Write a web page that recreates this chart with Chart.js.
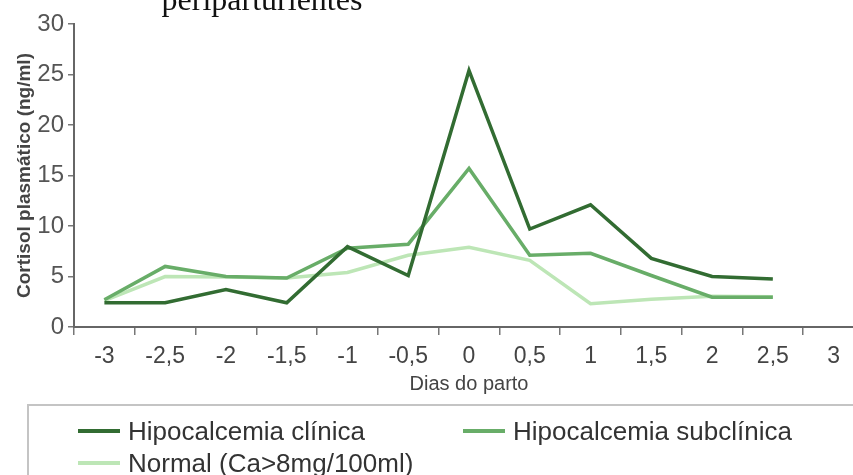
<!DOCTYPE html>
<html>
<head>
<meta charset="utf-8">
<script src="https://cdn.jsdelivr.net/npm/chart.js@4"></script>
<style>
  html, body { margin: 0; padding: 0; background: #fff; overflow: hidden; }
  #wrap { position: absolute; left: 0; top: 0; width: 866px; height: 475px; }
  #legend {
    position: absolute; top: 404px; left: 27px; width: 900px; height: 90px;
    border-top: 2px solid #c4c4c4; border-left: 2px solid #c4c4c4;
    font-family: "Liberation Sans", Arial, sans-serif; font-size: 26px; color: #333;
  }
  .item { position: absolute; display: flex; align-items: center; height: 30px; line-height: 30px; white-space: nowrap; }
  .item .swatch { display: inline-block; width: 42px; height: 4px; margin-right: 8px; }
</style>
</head>
<body>
<div id="wrap"><canvas id="chart"></canvas></div>
<div id="legend"></div>
<script>
// Dias do parto (categories)
const labels = ['-3', '-2,5', '-2', '-1,5', '-1', '-0,5', '0', '0,5', '1', '1,5', '2', '2,5', '3'];

// Cortisol plasmático (ng/ml)
const clinica = [2.4, 2.4, 3.7, 2.4, 7.95, 5.1, 25.4, 9.7, 12.1, 6.8, 5.0, 4.75, null];
const subclinica = [2.7, 6.0, 5.0, 4.85, 7.8, 8.2, 15.7, 7.1, 7.3, 5.1, 2.95, 2.95, null];
const normal = [2.6, 5.0, 4.95, 4.85, 5.4, 7.1, 7.9, 6.6, 2.3, 2.75, 3.05, 3.0, null];

const yTicks = [0, 5, 10, 15, 20, 25, 30];

Chart.defaults.font.family = '"Liberation Sans", Arial, sans-serif';
Chart.defaults.color = '#444';

// partially cut title above the plot
const titlePlugin = {
    id: 'cutTitle',
    afterDraw(chart) {
        const ctx = chart.ctx;
        ctx.save();
        ctx.font = '32px "Liberation Serif", "Times New Roman", serif';
        ctx.fillStyle = '#111';
        ctx.textAlign = 'center';
        ctx.textBaseline = 'alphabetic';
        ctx.fillText('periparturientes', 262, 10);
        ctx.restore();
    }
};

const chart = new Chart(document.getElementById('chart'), {
    type: 'line',
    data: {
        labels: labels,
        datasets: [{
            label: 'Hipocalcemia clínica',
            data: clinica,
            borderColor: '#326c32',
            backgroundColor: '#326c32',
            borderWidth: 3.5
        }, {
            label: 'Hipocalcemia subclínica',
            data: subclinica,
            borderColor: '#68ad68',
            backgroundColor: '#68ad68',
            borderWidth: 3.5
        }, {
            label: 'Normal (Ca>8mg/100ml)',
            data: normal,
            borderColor: '#bde6b6',
            backgroundColor: '#bde6b6',
            borderWidth: 3.5
        }]
    },
    options: {
        responsive: true,
        maintainAspectRatio: false,
        animation: false,
        elements: {
            point: { radius: 0 },
            line: { tension: 0 }
        },
        layout: { padding: { top: 24, right: 2, bottom: 76, left: 0 } },
        plugins: {
            legend: { display: false },
            tooltip: { enabled: false }
        },
        scales: {
            x: {
                type: 'category',
                offset: true,
                grid: {
                    offset: true,
                    drawOnChartArea: false,
                    tickLength: 8,
                    color: '#777',
                    lineWidth: 1.5
                },
                border: { color: '#666', width: 2 },
                ticks: {
                    font: { size: 23 },
                    color: '#444',
                    padding: 8,
                    maxRotation: 0,
                    autoSkip: false
                },
                title: {
                    display: true,
                    text: 'Dias do parto',
                    font: { size: 20 },
                    color: '#444',
                    padding: { top: 0, bottom: 3 }
                },
                afterFit(scale) { scale.height = 72; }
            },
            y: {
                min: 0,
                max: 30,
                afterBuildTicks(scale) { scale.ticks = yTicks.map(v => ({ value: v })); },
                grid: {
                    drawOnChartArea: false,
                    tickLength: 6,
                    color: '#777',
                    lineWidth: 1.5
                },
                border: { color: '#666', width: 2 },
                ticks: {
                    font: { size: 24 },
                    color: '#555',
                    padding: 4
                },
                title: {
                    display: true,
                    text: 'Cortisol plasmático (ng/ml)',
                    font: { size: 19, weight: 'bold' },
                    color: '#444',
                    padding: { top: 13, bottom: 0 }
                },
                afterFit(scale) { scale.width = 74; }
            }
        }
    },
    plugins: [titlePlugin]
});

// legend box below the chart, built from the datasets
const legendEl = document.getElementById('legend');
const spots = [[49, 10], [434, 10], [49, 42]];
chart.data.datasets.forEach((ds, i) => {
    const item = document.createElement('div');
    item.className = 'item';
    item.style.left = spots[i][0] + 'px';
    item.style.top = spots[i][1] + 'px';
    const sw = document.createElement('span');
    sw.className = 'swatch';
    sw.style.background = ds.borderColor;
    item.appendChild(sw);
    item.appendChild(document.createTextNode(ds.label));
    legendEl.appendChild(item);
});
</script>
</body>
</html>
